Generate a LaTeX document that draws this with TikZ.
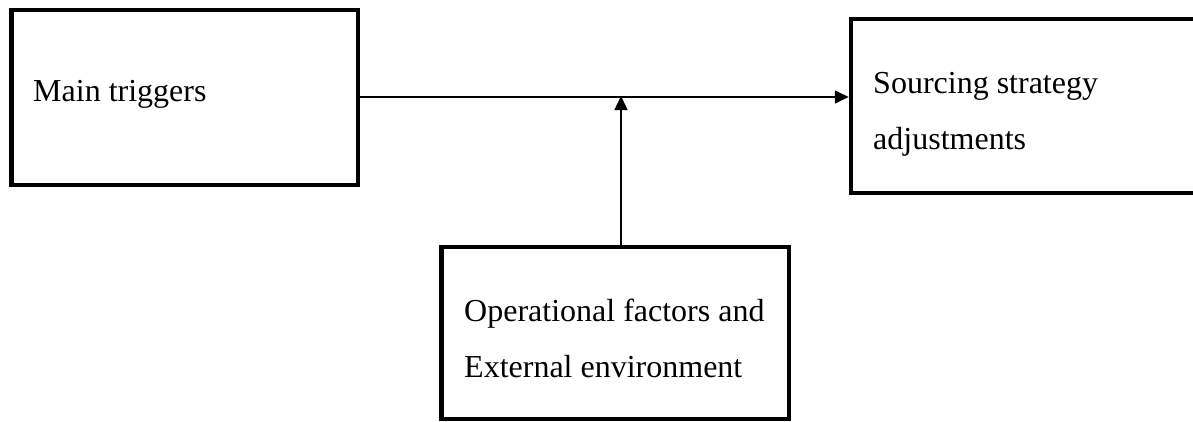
\documentclass[tikz,border=0pt]{standalone}
\usepackage{fontspec}
\setmainfont{Liberation Serif}
\usetikzlibrary{arrows.meta}
\tikzset{
  box/.style={draw=black, line width=4.5pt, inner sep=0pt, fill=none},
  lbl/.style={anchor=base west, inner sep=0pt, align=left,
    font=\fontsize{32}{56}\selectfont},
  conn/.style={line width=1.5pt, -{Triangle[length=14pt,width=13pt]}}
}
\begin{document}
\begin{tikzpicture}[x=1pt,y=-1pt]
\useasboundingbox (0,0) rectangle (1193,421);
\clip (0,0) rectangle (1193,421);
\node[box, minimum width=346.5pt, minimum height=175pt] (trig) at (184.75,97.5) {};
\node[box, minimum width=400pt, minimum height=174pt] (src) at (1051,106) {};
\node[box, minimum width=347.5pt, minimum height=172pt] (ops) at (615.25,333) {};
\node[lbl] (trigt) at (33,101) {Main triggers};
\node[lbl] (srct) at (873,149) {Sourcing strategy\\adjustments};
\node[lbl] (opst) at (464,377) {Operational factors and\\External environment};
\coordinate (m) at (621,97);
\draw[conn] (trig.east |- m) -- (src.west |- m);
\draw[conn] (ops.north -| m) -- ([yshift=1pt]m);
\end{tikzpicture}
\end{document}
